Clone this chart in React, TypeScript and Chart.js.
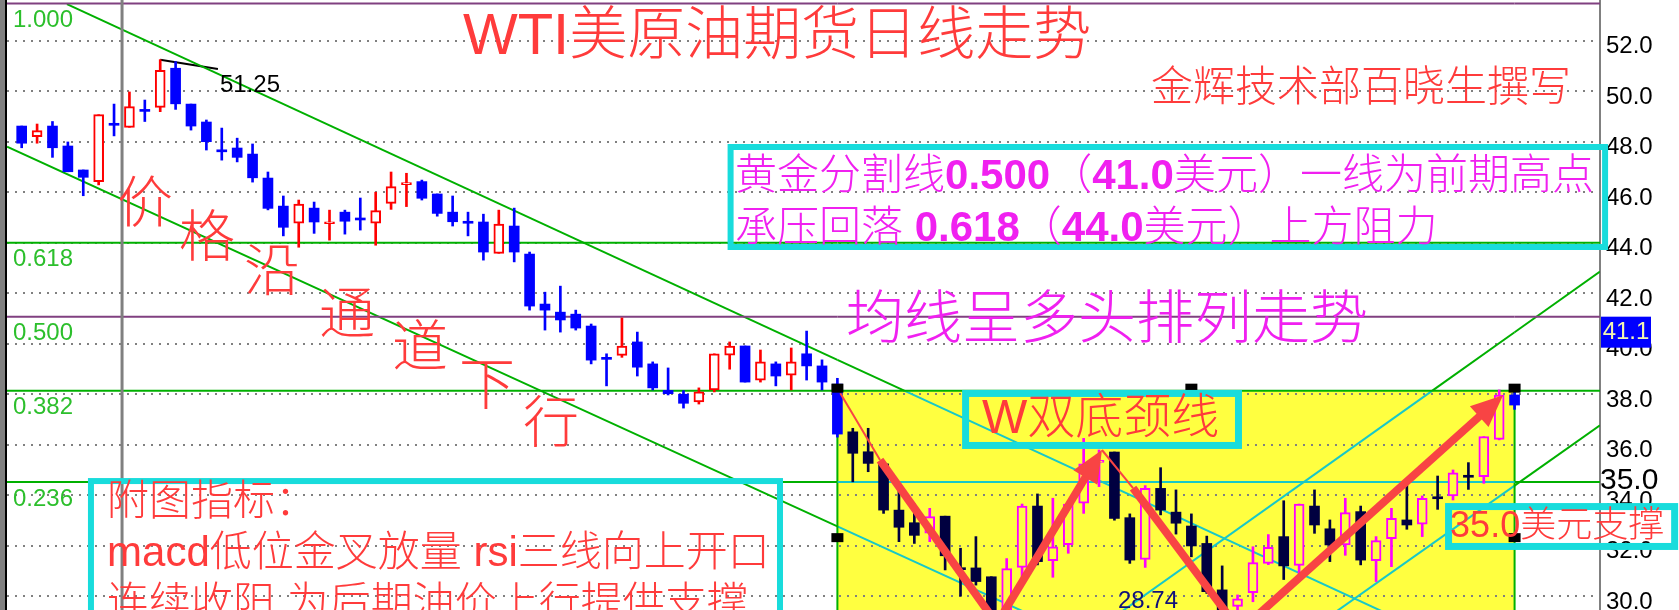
import React, { useEffect, useRef } from 'react';
import { Chart, registerables } from 'chart.js';

Chart.register(...registerables);

// ---------------- data (candle index, price) ----------------
const OPEN = [
  48.62, 48.2, 48.62, 47.83, 46.88, 46.42, 48.7, 48.57, 49.28, 49.36,
  50.91, 49.49, 48.78, 47.65, 47.75, 47.51, 46.56, 45.45, 44.77, 45.37,
  44.75, 45.21, 44.93, 44.77, 45.56, 46.3, 46.42, 45.93, 45.21, 44.82,
  44.82, 43.58, 44.66, 43.55, 41.57, 41.25, 41.17, 40.7, 39.43, 39.54,
  40.07, 39.2, 38.15, 38.0, 37.69, 38.17, 39.55, 39.91, 38.56, 39.2,
  38.75, 39.6, 39.12, 38.4, 36.51, 35.72, 35.24, 33.41, 32.91, 32.5,
  33.17, 31.1, 31.12, 30.77, 29.2, 31.14, 33.57, 31.41, 32.04, 33.68,
  35.3, 35.71, 33.11, 31.46, 34.27, 33.33, 32.78, 32.09, 30.25, 29.6,
  30.14, 31.3, 32.36, 31.22, 33.57, 32.67, 32.03, 33.35, 31.41, 32.28,
  33.02, 32.85, 33.9, 33.97, 34.75, 34.73, 36.21, 37.97,
];
const HIGH = [
  48.62, 48.7, 48.8, 47.99, 46.88, 49.07, 49.49, 49.97, 49.65, 51.25,
  51.17, 49.49, 48.86, 48.54, 48.14, 47.91, 46.8, 45.85, 45.69, 45.61,
  45.29, 45.29, 45.77, 46.0, 46.8, 46.75, 46.48, 45.93, 45.85, 45.21,
  45.13, 45.29, 45.37, 43.63, 42.04, 42.28, 41.33, 40.78, 39.6, 41.02,
  40.46, 39.28, 39.04, 38.14, 38.25, 39.6, 40.07, 39.91, 39.75, 39.28,
  39.83, 40.5, 39.36, 38.63, 36.65, 36.65, 35.24, 34.21, 33.65, 33.48,
  33.17, 31.9, 32.36, 30.77, 31.49, 33.65, 34.05, 33.88, 33.68, 36.25,
  35.79, 35.71, 33.26, 34.38, 35.09, 34.21, 33.26, 32.38, 31.2, 30.05,
  31.96, 32.44, 33.78, 33.65, 34.21, 33.02, 33.88, 33.57, 32.36, 33.48,
  34.41, 33.97, 34.76, 35.0, 35.29, 36.32, 38.17, 38.2,
];
const LOW = [
  47.76, 47.94, 47.38, 46.81, 45.86, 46.29, 48.23, 48.57, 48.8, 49.19,
  49.28, 48.46, 47.67, 47.27, 47.2, 46.4, 45.3, 44.27, 43.82, 44.37,
  44.1, 44.34, 44.5, 43.9, 45.32, 45.43, 45.69, 45.05, 44.66, 44.27,
  43.31, 43.58, 43.24, 41.33, 40.54, 40.46, 40.54, 39.2, 38.33, 39.46,
  38.72, 38.17, 37.97, 37.45, 37.61, 38.09, 38.99, 38.48, 38.48, 38.33,
  38.17, 38.56, 38.17, 36.3, 34.53, 34.93, 33.28, 32.16, 32.09, 32.16,
  31.04, 30.0, 30.44, 29.0, 28.74, 30.77, 31.24, 30.75, 31.7, 33.28,
  34.34, 33.01, 31.3, 31.14, 33.22, 32.46, 31.56, 30.11, 29.1, 29.3,
  29.78, 31.25, 30.66, 30.77, 32.49, 31.37, 31.62, 31.24, 30.58, 31.17,
  32.65, 32.36, 33.44, 33.81, 34.23, 34.47, 36.19, 37.4,
];
const CLOSE = [
  47.94, 48.44, 47.76, 46.81, 46.59, 49.07, 48.65, 49.39, 49.2, 50.83,
  49.5, 48.62, 48.0, 47.6, 47.38, 46.57, 45.36, 44.61, 45.53, 44.82,
  44.8, 44.85, 44.9, 45.27, 46.22, 46.35, 45.76, 45.16, 44.83, 44.77,
  43.63, 44.74, 43.63, 41.49, 41.33, 40.94, 40.62, 39.35, 39.38, 39.91,
  39.07, 38.25, 38.02, 37.64, 38.09, 39.6, 39.91, 38.48, 39.28, 38.72,
  39.28, 39.12, 38.48, 36.42, 35.66, 35.26, 33.41, 32.73, 32.41, 33.15,
  31.6, 31.05, 30.58, 29.3, 31.09, 33.57, 31.37, 31.96, 33.65, 35.24,
  35.35, 33.08, 31.43, 34.27, 33.41, 32.89, 31.99, 30.18, 29.35, 29.9,
  31.33, 31.94, 31.2, 33.65, 32.82, 32.03, 33.31, 31.43, 32.2, 33.08,
  32.82, 33.88, 33.86, 34.89, 34.71, 36.32, 37.97, 37.57,
];

const FIB_RATIOS = ['1.000', '0.618', '0.500', '0.382', '0.236'];
const FIB_PRICES = [53.47, 44.0, 41.07, 38.14, 34.52];
const HIGH_TAG = '51.25';
const LOW_TAG = '28.74';
const SUPPORT_TAG = '35.0';
const HIGH_LEADER = [[9, 51.25], [12.75, 50.88]];
const DIVIDER_IDX = 6.52;
const ZONE_IDX = [53, 97];
const ZONE_PRICE = [26.5, 38.14];
const ZONE_HANDLES = [[53, 38.14], [76, 38.14], [97, 38.14], [53, 32.22], [97, 32.22]];
const CHANNEL_UPPER = [[2.94, 53.45], [90, 28.95]];
const CHANNEL_LOWER = [[-0.955, 47.8], [67, 28.86]];
const RISE_UPPER = [[70.5, 28.97], [102.55, 42.86]];
const RISE_LOWER = [[84.5, 29.0], [102.55, 36.77]];
const ARROW_THIN = [
  [[53.19, 38.04], [55.77, 35.39]],
  [[70.19, 35.79], [72.21, 34.28]],
];
const ARROW_THICK = [
  [[55.77, 35.39], [63.25, 29.0]],
  [[63.5, 29.05], [70.19, 35.79]],
  [[72.21, 34.28], [78.64, 29.05]],
  [[79.94, 29.05], [96.25, 37.96]],
];
const ARROW_HEAD = [false, true, false, true];

// ---------------- axis ranges ----------------
const X_MIN = -0.955;
const X_MAX = 102.55;
const Y_MIN = 29.4535;
const Y_MAX = 53.612;

// ---------------- styles ----------------
const RED = '#ff0000';
const BLUE = '#0000ff';
const MAGENTA = '#ff00ff';
const NAVY = '#000040';
const YELLOW = '#ffff40';
const GREEN = '#00b000';
const CYAN_LINE = '#18c8c8';
const CYAN_BOX = '#18dcdc';
const PURPLE = '#804080';
const TEXT_RED = '#ff3b3b';
const TEXT_MAGENTA = '#f020f0';
const ARROW_RED = '#f84444';
const FONT = "'Liberation Sans', 'Noto Sans CJK SC', sans-serif";

const insideZone = (i: number) => i > ZONE_IDX[0] && i < ZONE_IDX[1];

function splitByZone(p: number[], q: number[]) {
  const [x0, x1] = ZONE_IDX;
  const [yb, yt] = ZONE_PRICE;
  const dx = q[0] - p[0];
  const dy = q[1] - p[1];
  const ts = [0, 1];
  if (dx !== 0) for (const xv of [x0, x1]) { const t = (xv - p[0]) / dx; if (t > 0 && t < 1) ts.push(t); }
  if (dy !== 0) for (const yv of [yb, yt]) { const t = (yv - p[1]) / dy; if (t > 0 && t < 1) ts.push(t); }
  ts.sort((a, b) => a - b);
  const out: any[] = [];
  const e = 1e-6;
  for (let k = 0; k < ts.length - 1; k++) {
    const ta = ts[k];
    const tb = ts[k + 1];
    if (tb - ta < 1e-9) continue;
    const tm = (ta + tb) / 2;
    const mx = p[0] + dx * tm;
    const my = p[1] + dy * tm;
    const inside = mx > x0 + e && mx < x1 - e && my > yb + e && my < yt - e;
    out.push({ a: [p[0] + dx * ta, p[1] + dy * ta], b: [p[0] + dx * tb, p[1] + dy * tb], inside });
  }
  return out;
}

function lineDs(p: number[], q: number[], color: string, width = 2) {
  return {
    type: 'line',
    data: [{ x: p[0], y: p[1] }, { x: q[0], y: q[1] }],
    borderColor: color,
    backgroundColor: color,
    borderWidth: width,
    pointRadius: 0,
    fill: false,
    tension: 0,
    order: 3,
  };
}

function zoneLines(p: number[], q: number[], outColor: string) {
  return splitByZone(p, q).map((s) => lineDs(s.a, s.b, s.inside ? CYAN_LINE : outColor));
}

function buildDatasets() {
  const n = OPEN.length;
  const idx = Array.from({ length: n }, (_, i) => i);
  const up = idx.map((i) => CLOSE[i] >= OPEN[i]);
  const markColor = idx.map((i) => (up[i] ? (insideZone(i) ? MAGENTA : RED) : insideZone(i) ? NAVY : BLUE));
  const bodyFill = idx.map((i) => (up[i] ? (insideZone(i) ? YELLOW : '#ffffff') : markColor[i]));
  const bodies = {
    type: 'bar',
    data: idx.map((i) => ({ x: i, y: [Math.min(OPEN[i], CLOSE[i]), Math.max(OPEN[i], CLOSE[i])] })),
    backgroundColor: bodyFill,
    borderColor: markColor,
    borderWidth: idx.map((i) => (up[i] ? 2 : 0)),
    borderSkipped: false,
    barThickness: 10,
    minBarLength: 2,
    grouped: false,
    order: 1,
  };
  const wicks = {
    type: 'bar',
    data: idx.map((i) => ({ x: i, y: [LOW[i], HIGH[i]] })),
    backgroundColor: markColor,
    borderWidth: 0,
    barThickness: 2,
    grouped: false,
    order: 2,
  };
  const lines: any[] = [];
  lines.push(lineDs([DIVIDER_IDX, 20], [DIVIDER_IDX, 60], '#808080', 3));
  FIB_PRICES.forEach((v, k) => {
    const col = k === 0 || k === 2 ? PURPLE : GREEN;
    lines.push(...zoneLines([X_MIN, v], [X_MAX, v], col));
  });
  lines.push(lineDs([ZONE_IDX[0], ZONE_PRICE[1]], [ZONE_IDX[0], ZONE_PRICE[0]], GREEN));
  lines.push(lineDs([ZONE_IDX[1], ZONE_PRICE[1]], [ZONE_IDX[1], ZONE_PRICE[0]], GREEN));
  lines.push(...zoneLines(CHANNEL_UPPER[0], CHANNEL_UPPER[1], GREEN));
  lines.push(...zoneLines(CHANNEL_LOWER[0], CHANNEL_LOWER[1], GREEN));
  lines.push(...zoneLines(RISE_UPPER[0], RISE_UPPER[1], GREEN));
  lines.push(...zoneLines(RISE_LOWER[0], RISE_LOWER[1], GREEN));
  lines.push(lineDs(HIGH_LEADER[0], HIGH_LEADER[1], '#000000'));
  return [bodies, wicks, ...lines];
}

function drawArrow(ctx: CanvasRenderingContext2D, x1: number, y1: number, x2: number, y2: number, width: number, head: boolean) {
  const ang = Math.atan2(y2 - y1, x2 - x1);
  const c = Math.cos(ang);
  const s = Math.sin(ang);
  const hl = 32;
  const hw = 14;
  const ex = head ? x2 - c * hl * 0.85 : x2;
  const ey = head ? y2 - s * hl * 0.85 : y2;
  ctx.lineWidth = width;
  ctx.lineCap = 'butt';
  ctx.beginPath();
  ctx.moveTo(x1, y1);
  ctx.lineTo(ex, ey);
  ctx.stroke();
  if (head) {
    const bx = x2 - c * hl;
    const by = y2 - s * hl;
    ctx.beginPath();
    ctx.moveTo(x2, y2);
    ctx.lineTo(bx - s * hw, by + c * hw);
    ctx.lineTo(bx + s * hw, by - c * hw);
    ctx.closePath();
    ctx.fill();
  }
}

function drawRuns(ctx: CanvasRenderingContext2D, parts: any[], x: number, y: number, size: number, color: string) {
  ctx.fillStyle = color;
  let cx = x;
  for (const [t, bold] of parts) {
    ctx.font = `${bold ? 'bold' : '300'} ${size}px ${FONT}`;
    ctx.fillText(t, cx, y);
    cx += ctx.measureText(t).width;
  }
}

const annotations = {
  id: 'annotations',
  beforeDraw(chart: any) {
    const { ctx, chartArea: a, scales } = chart;
    const X = (v: number) => scales.x.getPixelForValue(v);
    const Y = (v: number) => scales.y.getPixelForValue(v);
    ctx.save();
    ctx.fillStyle = '#ffffff';
    ctx.fillRect(0, 0, chart.width, chart.height);
    ctx.beginPath();
    ctx.rect(a.left, a.top, a.right - a.left, a.bottom - a.top);
    ctx.clip();
    const x0 = X(ZONE_IDX[0]);
    const x1 = X(ZONE_IDX[1]);
    const yt = Y(ZONE_PRICE[1]);
    const yb = Y(ZONE_PRICE[0]);
    ctx.fillStyle = YELLOW;
    ctx.fillRect(x0, yt, x1 - x0, yb - yt);
    ctx.restore();
  },
  afterDraw(chart: any) {
    const { ctx, chartArea: a, scales } = chart;
    const X = (v: number) => scales.x.getPixelForValue(v);
    const Y = (v: number) => scales.y.getPixelForValue(v);
    ctx.save();
    ctx.textBaseline = 'middle';
    ctx.textAlign = 'left';

    // left frame
    ctx.fillStyle = '#808080';
    ctx.fillRect(0, 0, 5, chart.height);
    ctx.fillStyle = '#000000';
    ctx.fillRect(5, 0, 2, chart.height);

    // W arrows
    ctx.strokeStyle = ARROW_RED;
    ctx.fillStyle = ARROW_RED;
    ARROW_THIN.forEach(([p, q]) => {
      ctx.lineWidth = 2;
      ctx.beginPath();
      ctx.moveTo(X(p[0]), Y(p[1]));
      ctx.lineTo(X(q[0]), Y(q[1]));
      ctx.stroke();
    });
    ARROW_THICK.forEach(([p, q], k) => drawArrow(ctx, X(p[0]), Y(p[1]), X(q[0]), Y(q[1]), 8, ARROW_HEAD[k]));

    // zone handles
    ctx.fillStyle = '#000000';
    ZONE_HANDLES.forEach(([i, v]) => ctx.fillRect(X(i) - 6, Y(v) - 7, 12, 9));

    // high / low tags
    ctx.font = `24px 'Liberation Sans', sans-serif`;
    ctx.fillStyle = '#000000';
    ctx.fillText(HIGH_TAG, X(12.88), Y(50.25));
    ctx.fillStyle = '#10107a';
    ctx.fillText(LOW_TAG, X(71.23), Y(29.81));

    // fib labels
    ctx.fillStyle = '#2cbf2c';
    FIB_RATIOS.forEach((r, k) => ctx.fillText(r, X(-0.565), Y(FIB_PRICES[k]) + 17));

    // title & author
    ctx.textAlign = 'center';
    drawRuns; // keep reference
    ctx.font = `300 58px ${FONT}`;
    ctx.fillStyle = TEXT_RED;
    ctx.fillText('WTI美原油期货日线走势', X(49.08), Y(52.11));
    ctx.textAlign = 'left';
    ctx.font = `300 42px ${FONT}`;
    ctx.fillText('金辉技术部百晓生撰写', X(73.38), Y(50.09));

    // golden-section box
    ctx.strokeStyle = CYAN_BOX;
    ctx.lineWidth = 6;
    ctx.strokeRect(X(46.06), Y(47.79), X(102.88) - X(46.06), Y(43.83) - Y(47.79));
    drawRuns(ctx, [['黄金分割线'], ['0.500', true], ['（'], ['41.0', true], ['美元）一线为前期高点']], X(46.35), Y(46.6), 42, TEXT_MAGENTA);
    drawRuns(ctx, [['承压回落 '], ['0.618', true], ['（'], ['44.0', true], ['美元）上方阻力']], X(46.35), Y(44.54), 42, TEXT_MAGENTA);

    // moving average note
    ctx.font = `300 58px ${FONT}`;
    ctx.fillStyle = TEXT_MAGENTA;
    ctx.fillText('均线呈多头排列走势', X(53.56), Y(40.86));

    // diagonal channel text
    const diag = '价格沿通道下行';
    const diagPos = [[8.01, 45.45], [12.04, 44.1], [16.27, 42.75], [21.14, 41.05], [25.88, 39.74], [30.23, 38.24], [34.39, 36.73]];
    ctx.textAlign = 'center';
    ctx.font = `300 56px ${FONT}`;
    ctx.fillStyle = TEXT_RED;
    Array.from(diag).forEach((ch, k) => ctx.fillText(ch, X(diagPos[k][0]), Y(diagPos[k][1])));
    ctx.textAlign = 'left';

    // indicator box (bottom left)
    ctx.strokeStyle = CYAN_BOX;
    ctx.lineWidth = 6;
    ctx.strokeRect(X(4.5), Y(34.56), X(49.27) - X(4.5), Y(27) - Y(34.56));
    ctx.font = `300 42px ${FONT}`;
    ctx.fillStyle = TEXT_RED;
    ctx.fillText('附图指标：', X(5.55), Y(33.69));
    ctx.fillText('macd低位金叉放量 rsi三线向上开口', X(5.55), Y(31.67));
    ctx.fillText('连续收阳 为后期油价上行提供支撑', X(5.55), Y(29.65));

    // W neckline box
    ctx.strokeStyle = CYAN_BOX;
    ctx.lineWidth = 7;
    ctx.strokeRect(X(61.33), Y(38.03), X(79.06) - X(61.33), Y(35.97) - Y(38.03));
    ctx.font = `300 48px ${FONT}`;
    ctx.fillStyle = TEXT_RED;
    ctx.fillText('W双底颈线', X(62.4), Y(36.98));

    // right-axis specials
    const y05 = Y(FIB_PRICES[2]);
    ctx.fillStyle = '#0000ff';
    ctx.fillRect(a.right + 1, y05, 50, 31);
    ctx.fillStyle = '#f4f6b0';
    ctx.font = `24px 'Liberation Sans', sans-serif`;
    ctx.textAlign = 'center';
    ctx.fillText(FIB_PRICES[2].toFixed(1), a.right + 26, y05 + 16);
    ctx.textAlign = 'left';
    ctx.fillStyle = '#000000';
    ctx.font = `30px 'Liberation Sans', sans-serif`;
    ctx.fillText(SUPPORT_TAG, a.right, Y(FIB_PRICES[4]) - 1);

    // support box
    ctx.strokeStyle = CYAN_BOX;
    ctx.lineWidth = 7;
    ctx.strokeRect(X(92.71), Y(33.55), X(107.4) - X(92.71), Y(31.97) - Y(33.55));
    ctx.font = `300 36px ${FONT}`;
    ctx.fillStyle = TEXT_RED;
    ctx.fillText(SUPPORT_TAG + '美元支撑', X(92.81), Y(32.74));

    ctx.restore();
  },
};

export default function App() {
  const ref = useRef<HTMLCanvasElement>(null);
  useEffect(() => {
    document.body.style.margin = '0';
    const canvas = ref.current as HTMLCanvasElement;
    const chart = new Chart(canvas, {
      type: 'bar',
      data: { datasets: buildDatasets() as any },
      options: {
        animation: false,
        responsive: false,
        events: [],
        layout: { padding: { left: 7, right: 0, top: 0, bottom: 0 } },
        plugins: { legend: { display: false }, tooltip: { enabled: false }, title: { display: false } },
        scales: {
          x: { type: 'linear', min: X_MIN, max: X_MAX, display: false, offset: false },
          y: {
            type: 'linear',
            position: 'right',
            min: Y_MIN,
            max: Y_MAX,
            afterFit: (s: any) => {
              s.width = 79;
              s.paddingTop = 0;
              s.paddingBottom = 0;
            },
            ticks: {
              stepSize: 2,
              includeBounds: false,
              padding: 6,
              labelOffset: 6,
              color: '#000000',
              font: { family: "'Liberation Sans', Arial, sans-serif", size: 24 },
              callback: (v: any) => Number(v).toFixed(1),
            },
            grid: { color: '#808080', lineWidth: 2, drawTicks: false },
            border: { display: true, color: '#808080', width: 2, dash: [2, 6] },
          },
        },
      } as any,
      plugins: [annotations as any],
    });
    return () => chart.destroy();
  }, []);
  return (
    <div style={{ position: 'fixed', left: 0, top: 0, width: 1679, height: 610, background: '#ffffff' }}>
      <canvas ref={ref} width={1679} height={610} style={{ display: 'block', width: 1679, height: 610 }} />
    </div>
  );
}
